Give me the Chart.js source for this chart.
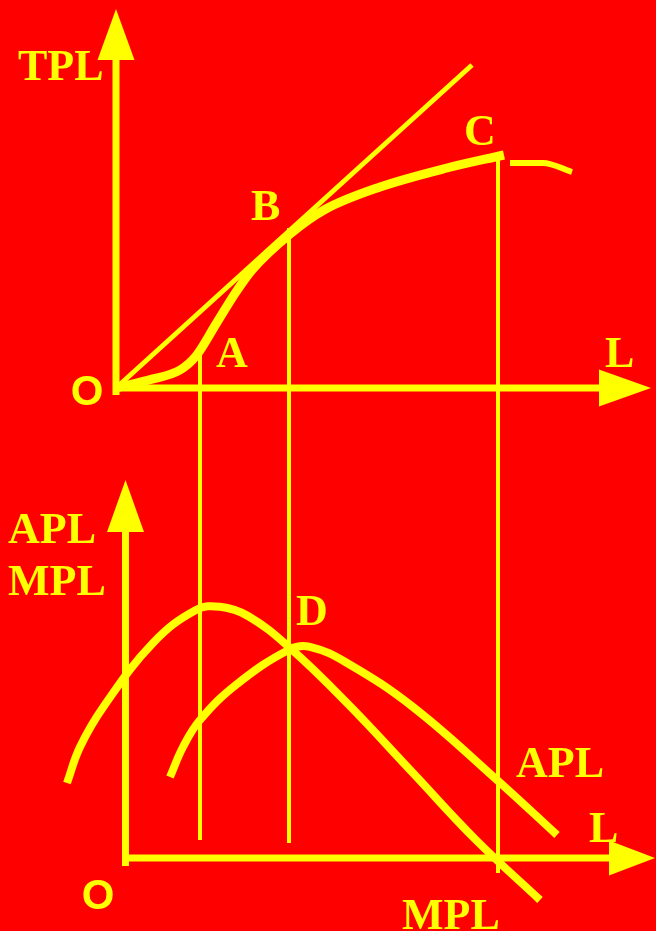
<!DOCTYPE html>
<html>
<head>
<meta charset="utf-8">
<script src="https://cdn.jsdelivr.net/npm/chart.js@4.4.1/dist/chart.umd.min.js"></script>
<style>
  html, body { margin: 0; padding: 0; background: #ff0000; }
  canvas { display: block; }
</style>
</head>
<body>
<canvas id="chart" width="656" height="931"></canvas>
<script>
const YELLOW = '#ffff00';

// total product curve (TPL against L)
const tplL = [0, 0.9, 1.6, 2.0, 2.5, 3.0, 3.4, 4.35, 5.2, 6.6, 8.275, 9.7];
const tplQ = [0, 0.22, 0.45, 0.8, 1.6, 2.4, 2.95, 3.85, 4.45, 5.025, 5.5, 5.825];
// short piece after the maximum C
const tailL = [9.85, 10.675, 11.4];
const tailQ = [5.625, 5.625, 5.4];
// ray from the origin, tangent at B
const rayL = [0, 8.9];
const rayQ = [0, 8.075];

// marginal product
const mplL = [-1.225, -0.9, -0.3, 0.925, 2.0, 2.6, 3.3, 4.35, 5.775, 7.425, 9.0, 10.6];
const mplQ = [1.875, 2.775, 3.8, 5.375, 6.2, 6.28, 6.05, 5.25, 3.875, 2.125, 0.45, -1.05];
// average product
const aplL = [1.35, 1.675, 2.1, 3.0, 4.35, 4.85, 5.775, 7.425, 9.525, 11.025];
const aplQ = [2.025, 2.775, 3.45, 4.33, 5.22, 5.28, 4.875, 3.775, 1.95, 0.575];

// drop lines through A, B, C (on the TPL scale)
const dropL = [2.1, 4.325, 9.55];
const dropTop = [0.825, 4.0, 5.875];
const dropBottom = [-11.3, -11.375, -12.125];

const pts = (xs, ys) => xs.map((x, i) => ({ x, y: ys[i] }));

const line = (data, width, extra) => Object.assign({
  data, showLine: true, borderColor: YELLOW, backgroundColor: YELLOW,
  borderWidth: width, pointRadius: 0, tension: 0, yAxisID: 'y'
}, extra || {});

const datasets = [
  // axes of the top panel
  line(pts([0, 0], [-0.175, 8.2]), 7, { arrow: { len: 51, half: 18.5 } }),
  line(pts([0, 12.075], [0, 0]), 7, { arrow: { len: 52, half: 18.5 } }),
  // axes of the bottom panel
  line(pts([0.2375, 0.2375], [-0.2, 8.15]), 7, { yAxisID: 'y2', arrow: { len: 52, half: 18.5 } }),
  line(pts([0.2375, 12.325], [0, 0]), 7, { yAxisID: 'y2', arrow: { len: 46, half: 17.5 } }),
  line(pts(rayL, rayQ), 5),
  line(pts(tplL, tplQ), 9, { cubicInterpolationMode: 'monotone' }),
  line(pts(tailL, tailQ), 6, { cubicInterpolationMode: 'monotone' }),
  line(pts(mplL, mplQ), 8, { yAxisID: 'y2', tension: 0.4 }),
  line(pts(aplL, aplQ), 8, { yAxisID: 'y2', tension: 0.4 })
];
dropL.forEach((l, i) => datasets.push(line(pts([l, l], [dropTop[i], dropBottom[i]]), 4)));

// text labels, anchored in data units
const SERIF = 'bold 44px "Liberation Serif", "Times New Roman", serif';
const SANS = 'bold 42px "Liberation Sans", Arial, sans-serif';
const labels = [
  { text: 'TPL', x: -2.45, y: 7.7, axis: 'y' },
  { text: 'B', x: 3.375, y: 4.2, axis: 'y' },
  { text: 'A', x: 2.5, y: 0.525, axis: 'y' },
  { text: 'C', x: 8.7, y: 6.075, axis: 'y' },
  { text: 'L', x: 12.225, y: 0.525, axis: 'y' },
  { text: 'O', x: -0.725, y: -0.125, axis: 'y', sans: true },
  { text: 'APL', x: -2.7, y: 7.875, axis: 'y2' },
  { text: 'MPL', x: -2.7, y: 6.575, axis: 'y2' },
  { text: 'D', x: 4.5, y: 5.825, axis: 'y2' },
  { text: 'APL', x: 10.0, y: 2.025, axis: 'y2' },
  { text: 'L', x: 11.825, y: 0.4, axis: 'y2' },
  { text: 'MPL', x: 7.15, y: -1.775, axis: 'y2' },
  { text: 'O', x: -0.45, y: -0.975, axis: 'y2', sans: true }
];

const arrowHeads = {
  id: 'arrowHeads',
  afterDatasetsDraw(chart) {
    const ctx = chart.ctx;
    chart.data.datasets.forEach((ds, i) => {
      if (!ds.arrow) return;
      const p = chart.getDatasetMeta(i).data;
      const a = p[p.length - 2], b = p[p.length - 1];
      const ang = Math.atan2(b.y - a.y, b.x - a.x);
      const dx = Math.cos(ang), dy = Math.sin(ang);
      ctx.save();
      ctx.fillStyle = YELLOW;
      ctx.beginPath();
      ctx.moveTo(b.x + dx * ds.arrow.len, b.y + dy * ds.arrow.len);
      ctx.lineTo(b.x - dy * ds.arrow.half, b.y + dx * ds.arrow.half);
      ctx.lineTo(b.x + dy * ds.arrow.half, b.y - dx * ds.arrow.half);
      ctx.closePath();
      ctx.fill();
      ctx.restore();
    });
  }
};

const textLabels = {
  id: 'textLabels',
  afterDraw(chart) {
    const ctx = chart.ctx;
    ctx.save();
    ctx.fillStyle = YELLOW;
    labels.forEach(l => {
      const px = chart.scales.x.getPixelForValue(l.x);
      const py = chart.scales[l.axis].getPixelForValue(l.y);
      ctx.font = l.sans ? SANS : SERIF;
      ctx.textAlign = l.sans ? 'center' : 'left';
      ctx.textBaseline = l.sans ? 'middle' : 'alphabetic';
      ctx.fillText(l.text, px, py);
    });
    ctx.restore();
  }
};

new Chart(document.getElementById('chart'), {
  type: 'scatter',
  data: { datasets },
  options: {
    responsive: false,
    animation: false,
    devicePixelRatio: 1,
    layout: { padding: 0 },
    plugins: { legend: { display: false }, tooltip: { enabled: false } },
    scales: {
      x: { type: 'linear', min: -2.9, max: 13.5, display: false },
      y: { type: 'linear', min: -13.575, max: 9.7, display: false },
      y2: { type: 'linear', min: -1.825, max: 21.45, display: false }
    }
  },
  plugins: [arrowHeads, textLabels]
});
</script>
</body>
</html>
